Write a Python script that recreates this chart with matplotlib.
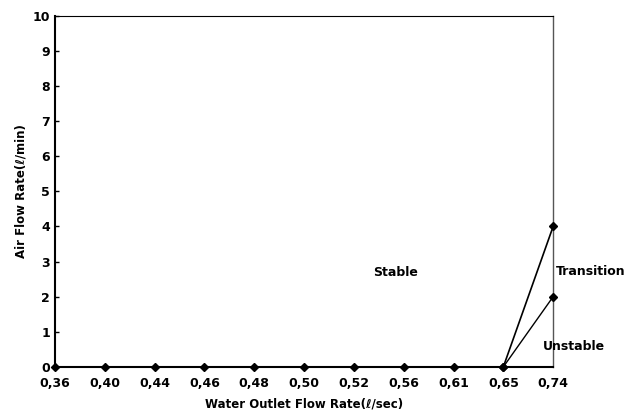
import matplotlib
matplotlib.use('Agg')
import matplotlib.pyplot as plt

# data
x_labels = ['0,36', '0,40', '0,44', '0,46', '0,48', '0,50', '0,52', '0,56', '0,61', '0,65', '0,74']
y_upper = [0, 0, 0, 0, 0, 0, 0, 0, 0, 0, 4]  # stable / transition boundary
y_lower = [0, 2]  # transition / unstable boundary (0,65 -> 0,74)
lower_idx = [9, 10]

plt.rcParams['font.family'] = ['DejaVu Sans']
plt.rcParams['font.weight'] = 'bold'

fig = plt.figure(figsize=(6.29, 4.16), dpi=100)
ax = fig.add_axes([0.0874, 0.118, 0.792, 0.844])

xs = list(range(len(x_labels)))
ax.plot(xs, y_upper, color='black', lw=1.2, marker='D', ms=4.5, clip_on=False, zorder=3)
ax.plot(lower_idx, y_lower, color='black', lw=1.0, marker='D', ms=4.5, clip_on=False, zorder=3)

ax.set_xlim(0, 10)
ax.set_ylim(0, 10)
ax.set_xticks(xs)
ax.set_xticklabels(x_labels, fontsize=9, fontweight='bold')
ax.set_yticks(range(11))
ax.set_yticklabels([str(i) for i in range(11)], fontsize=9, fontweight='bold')
ax.tick_params(axis='y', direction='in', length=3, width=1)
ax.tick_params(axis='x', length=0, pad=7)

ax.spines['left'].set_linewidth(1.5)
ax.spines['bottom'].set_linewidth(1.5)
ax.spines['top'].set_linewidth(0.8)
ax.spines['right'].set_linewidth(1.0)
ax.spines['right'].set_color('#555555')

ax.set_xlabel('Water Outlet Flow Rate(ℓ/sec)', fontsize=8.5, fontweight='bold', labelpad=6)
ax.set_ylabel('Air Flow Rate(ℓ/min)', fontsize=8.5, fontweight='bold', labelpad=4)

ax.text(6.83, 2.68, 'Stable', fontsize=9, fontweight='bold', ha='center', va='center')
ax.text(10.05, 2.73, 'Transition', fontsize=9, fontweight='bold', ha='left', va='center', clip_on=False)
ax.text(9.8, 0.57, 'Unstable', fontsize=9, fontweight='bold', ha='left', va='center', clip_on=False)

fig.savefig('out.png', dpi=100)
